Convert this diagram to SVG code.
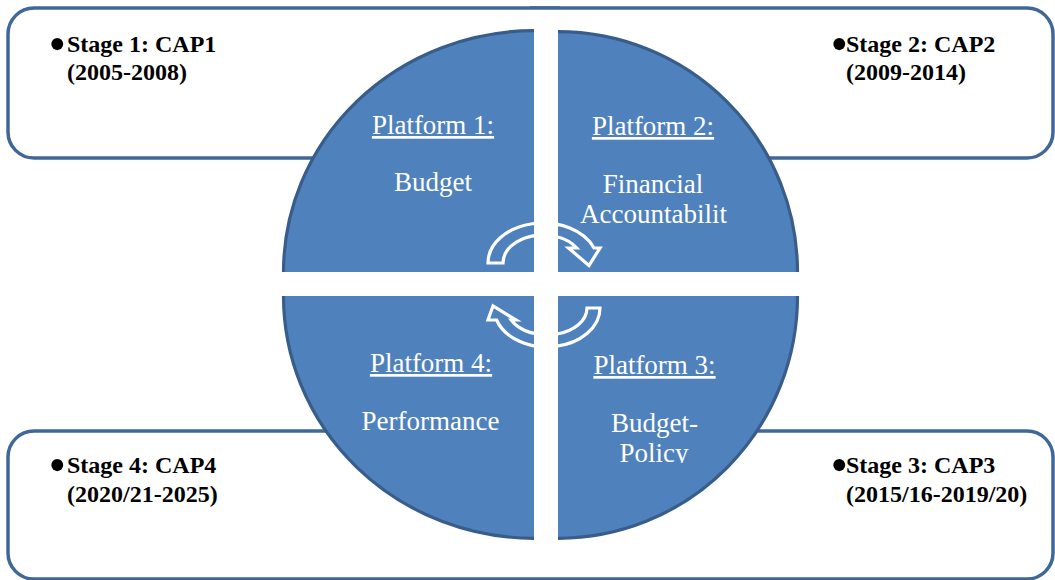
<svg xmlns="http://www.w3.org/2000/svg" width="1055" height="580" viewBox="0 0 1055 580">
  <style>
    .box { fill: #ffffff; stroke: #3f6899; stroke-width: 3.5; }
    .quad { fill: #4f81bd; stroke: none; }
    .rim { fill: none; stroke: #385d8a; stroke-width: 3.2; }
    .stage { font-family: "Liberation Serif", "Times New Roman", serif; font-weight: bold; font-size: 24px; fill: #000000; }
    .bullet { font-family: "Liberation Serif", "Times New Roman", serif; font-weight: normal; font-size: 50px; fill: #000000; }
    .plat { font-family: "Liberation Serif", "Times New Roman", serif; font-size: 27px; fill: #ffffff; text-anchor: middle; }
    .title { text-decoration: underline; }
    .cycle { fill: none; stroke: #ffffff; stroke-width: 3.2; stroke-linejoin: miter; }
  </style>
  <defs>
    <clipPath id="clip-q3">
      <rect x="558" y="296" width="241" height="167"/>
    </clipPath>
  </defs>

  <rect width="1055" height="580" fill="#ffffff"/>

  <!-- stage boxes -->
  <g id="stage1">
    <path class="box" d="M 560 8 H 34 A 26 26 0 0 0 8 34 V 132 A 26 26 0 0 0 34 158 H 560"/>
    <text class="stage"><tspan class="bullet" x="48.5" y="61">•</tspan><tspan x="67" y="52">Stage 1: CAP1</tspan><tspan x="67" y="80">(2005-2008)</tspan></text>
  </g>
  <g id="stage2">
    <path class="box" d="M 530 8 H 1027 A 26 26 0 0 1 1053 34 V 132 A 26 26 0 0 1 1027 158 H 530"/>
    <text class="stage"><tspan class="bullet" x="830.5" y="61">•</tspan><tspan x="846" y="52">Stage 2: CAP2</tspan><tspan x="846" y="80">(2009-2014)</tspan></text>
  </g>
  <g id="stage4">
    <path class="box" d="M 560 431 H 34 A 26 26 0 0 0 8 457 V 553 A 26 26 0 0 0 34 579 H 560"/>
    <text class="stage"><tspan class="bullet" x="48.5" y="481.5">•</tspan><tspan x="67" y="472.5">Stage 4: CAP4</tspan><tspan x="67" y="502">(2020/21-2025)</tspan></text>
  </g>
  <g id="stage3">
    <path class="box" d="M 530 431 H 1027 A 26 26 0 0 1 1053 457 V 553 A 26 26 0 0 1 1027 579 H 530"/>
    <text class="stage"><tspan class="bullet" x="830.5" y="481.5">•</tspan><tspan x="846" y="472.5">Stage 3: CAP3</tspan><tspan x="846" y="502">(2015/16-2019/20)</tspan></text>
  </g>

  <!-- white cross between the four quarters -->
  <rect x="534" y="30" width="24" height="510" fill="#ffffff"/>

  <!-- platform quarters -->
  <g id="platform1">
    <path class="quad" d="M 534 272 H 283.5 A 250.5 241.3 0 0 1 534 30.7 Z"/>
    <path class="rim" d="M 283.5 272 A 250.5 241.3 0 0 1 534 30.7"/>
    <text class="plat"><tspan class="title" x="433" y="134">Platform 1:</tspan><tspan x="433" y="191">Budget</tspan></text>
  </g>
  <g id="platform2">
    <path class="quad" d="M 558 272 V 31.7 A 239.5 240.3 0 0 1 797.5 272 Z"/>
    <path class="rim" d="M 558 31.7 A 239.5 240.3 0 0 1 797.5 272"/>
    <text class="plat"><tspan class="title" x="653" y="135">Platform 2:</tspan><tspan x="653" y="193">Financial</tspan><tspan x="653.5" y="223">Accountabilit</tspan></text>
  </g>
  <g id="platform3">
    <path class="quad" d="M 558 296 H 797.5 A 239.5 242.3 0 0 1 558 538.3 Z"/>
    <path class="rim" d="M 797.5 296 A 239.5 242.3 0 0 1 558 538.3"/>
    <text class="plat" clip-path="url(#clip-q3)"><tspan class="title" x="654.5" y="374">Platform 3:</tspan><tspan x="654.5" y="432">Budget-</tspan><tspan x="654" y="462">Policy</tspan></text>
  </g>
  <g id="platform4">
    <path class="quad" d="M 534 296 V 538.3 A 250.5 242.3 0 0 1 283.5 296 Z"/>
    <path class="rim" d="M 534 538.3 A 250.5 242.3 0 0 1 283.5 296"/>
    <text class="plat"><tspan class="title" x="431" y="372">Platform 4:</tspan><tspan x="430.5" y="430">Performance</tspan></text>
  </g>

  <!-- cycle arrows: hollow curved bands with a triangular head -->
  <g id="connectors">
    <path class="cycle" d="M 488 263 A 55 40 0 0 1 594 248 L 600 248 L 589 265.5 L 568.5 248 L 576.8 248 A 40 28 0 0 0 503 263 Z"/>
    <path class="cycle" d="M 600 308 A 53 39 0 0 1 496.6 320 L 488 320 L 493 306 L 516 320 L 511.2 320 A 40 27 0 0 0 587 308 Z"/>
  </g>
</svg>
